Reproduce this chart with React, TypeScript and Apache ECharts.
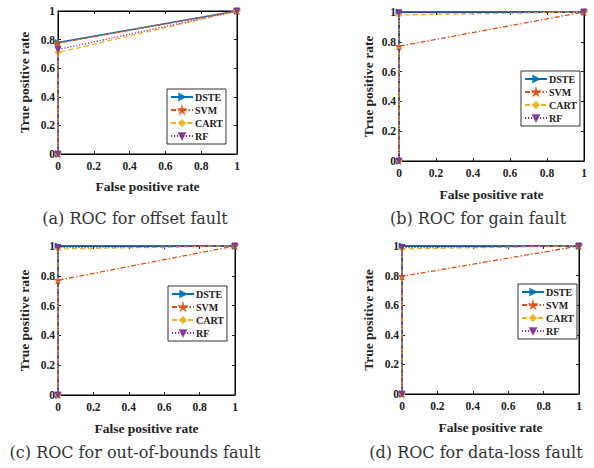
import React, { useEffect, useRef } from "react";
import * as echarts from "echarts";

// ---- data ----
const methods = ["DSTE", "SVM", "CART", "RF"];
const fpr = [0, 0, 1];
const tickLabels = [0, 0.2, 0.4, 0.6, 0.8, 1];

const offsetDSTE = [0, 0.78, 1];
const offsetSVM = [0, 0.775, 1];
const offsetCART = [0, 0.71, 1];
const offsetRF = [0, 0.73, 1];

const gainDSTE = [0, 1, 1];
const gainSVM = [0, 0.77, 1];
const gainCART = [0, 0.98, 1];
const gainRF = [0, 0.995, 1];

const oobDSTE = [0, 1, 1];
const oobSVM = [0, 0.77, 1];
const oobCART = [0, 0.98, 1];
const oobRF = [0, 0.99, 1];

const lossDSTE = [0, 1, 1];
const lossSVM = [0, 0.795, 1];
const lossCART = [0, 0.98, 1];
const lossRF = [0, 0.99, 1];

const captions = [
  "(a) ROC for offset fault",
  "(b) ROC for gain fault",
  "(c) ROC for out-of-bounds fault",
  "(d) ROC for data-loss fault",
];

const panelData = [
  [offsetDSTE, offsetSVM, offsetCART, offsetRF],
  [gainDSTE, gainSVM, gainCART, gainRF],
  [oobDSTE, oobSVM, oobCART, oobRF],
  [lossDSTE, lossSVM, lossCART, lossRF],
];

// ---- styles ----
const colors = ["#0072BD", "#D95319", "#EDB120", "#7E2F8E"];
const dashes: any[] = ["solid", [5, 2, 1.5, 2], [5, 3], [1.2, 1.8]];
const starPath =
  "path://M50,0 L61.8,35.5 L100,35.5 L69.1,57.4 L80.9,93 L50,71 L19.1,93 L30.9,57.4 L0,35.5 L38.2,35.5 Z";
const symbols = ["triangle", starPath, "diamond", "triangle"];
const symbolRot = [-90, 0, 0, 180];
const symbolSizes = [6, 7, 6, 6];

const grids = [
  { left: 58, top: 11, width: 179, height: 143 },
  { left: 399, top: 12, width: 185, height: 149 },
  { left: 58, top: 246, width: 177, height: 149 },
  { left: 402, top: 246, width: 177, height: 148 },
];
const yNameGaps = [21, 18, 21, 21];
const xNameGaps = [19, 20, 20, 20];
const captionPos = [
  [135, 210],
  [478, 210],
  [135, 444],
  [476, 444],
];
const legendPos = [
  [167, 89],
  [521, 71],
  [168, 286],
  [518, 284],
];

const FONT = "'Liberation Serif', 'Times New Roman', serif";
const CAPFONT = "'DejaVu Serif', serif";

export default function App() {
  const ref = useRef<HTMLDivElement>(null);
  useEffect(() => {
    if (!ref.current) return;
    const chart = echarts.init(ref.current, undefined, { renderer: "svg" });

    const xAxes: any[] = [];
    const yAxes: any[] = [];
    const series: any[] = [];
    const legends: any[] = [];
    const titles: any[] = [];

    grids.forEach((g, p) => {
      const common = {
        gridIndex: p,
        type: "value",
        min: 0,
        max: 1,
        interval: 0.2,
        axisLine: { show: true, onZero: false, lineStyle: { color: "#000", width: 1 } },
        axisTick: { show: true, inside: true, length: 3, lineStyle: { color: "#222" } },
        splitLine: { show: false },
      };
      const label = {
        show: true,
        color: "#222",
        fontFamily: FONT,
        fontWeight: "bold",
        fontSize: 11.5,
      };
      xAxes.push({
        ...common,
        position: "bottom",
        axisLabel: { ...label, margin: 6 },
        name: "False positive rate",
        nameLocation: "middle",
        nameGap: xNameGaps[p] + 6,
        nameTextStyle: { color: "#222", fontFamily: FONT, fontWeight: "bold", fontSize: 13.5 },
      });
      xAxes.push({ ...common, position: "top", axisLabel: { show: false } });
      yAxes.push({
        ...common,
        position: "left",
        axisLabel: {
          ...label,
          margin: 3,
          formatter: (v: number) => String(tickLabels.find((t) => Math.abs(t - v) < 1e-9) ?? v),
        },
        name: "True positive rate",
        nameLocation: "middle",
        nameRotate: 90,
        nameGap: yNameGaps[p] + 6,
        nameTextStyle: { color: "#222", fontFamily: FONT, fontWeight: "bold", fontSize: 13.5 },
      });
      yAxes.push({ ...common, position: "right", axisLabel: { show: false } });

      panelData[p].forEach((tpr, m) => {
        series.push({
          name: methods[m],
          type: "line",
          xAxisIndex: p * 2,
          yAxisIndex: p * 2,
          data: fpr.map((x, i) => [x, tpr[i]]),
          clip: false,
          symbol: symbols[m],
          symbolSize: symbolSizes[m],
          symbolRotate: symbolRot[m],
          showAllSymbol: true,
          lineStyle: { color: colors[m], width: m === 0 ? 1.6 : 1.3, type: dashes[m] },
          itemStyle: { color: colors[m], borderColor: colors[m], borderWidth: 1, opacity: 0.85 },
          z: 2 + m,
        });
      });

      legends.push({
        data: methods,
        orient: "vertical",
        left: legendPos[p][0],
        top: legendPos[p][1],
        itemWidth: 22,
        itemHeight: 7,
        itemGap: 3,
        padding: [3, 3, 3, 3],
        borderColor: "#000",
        borderWidth: 0.8,
        backgroundColor: "#fff",
        selectedMode: false,
        textStyle: { color: "#222", fontFamily: FONT, fontWeight: "bold", fontSize: 10, padding: [0, 0, 0, -3] },
      });

      titles.push({
        text: captions[p],
        left: captionPos[p][0],
        top: captionPos[p][1],
        textAlign: "center",
        padding: 0,
        textStyle: { color: "#333", fontFamily: CAPFONT, fontWeight: "normal", fontSize: 16 },
      });
    });

    chart.setOption({
      animation: false,
      backgroundColor: "#fff",
      title: titles,
      grid: grids.map((g) => ({ ...g, show: true, borderColor: "#000", borderWidth: 1, backgroundColor: "transparent" })),
      xAxis: xAxes,
      yAxis: yAxes,
      legend: legends,
      series,
    });
    return () => chart.dispose();
  }, []);
  return (
    <div
      ref={ref}
      style={{ position: "fixed", left: 0, top: 0, width: 594, height: 468, background: "#fff" }}
    />
  );
}
